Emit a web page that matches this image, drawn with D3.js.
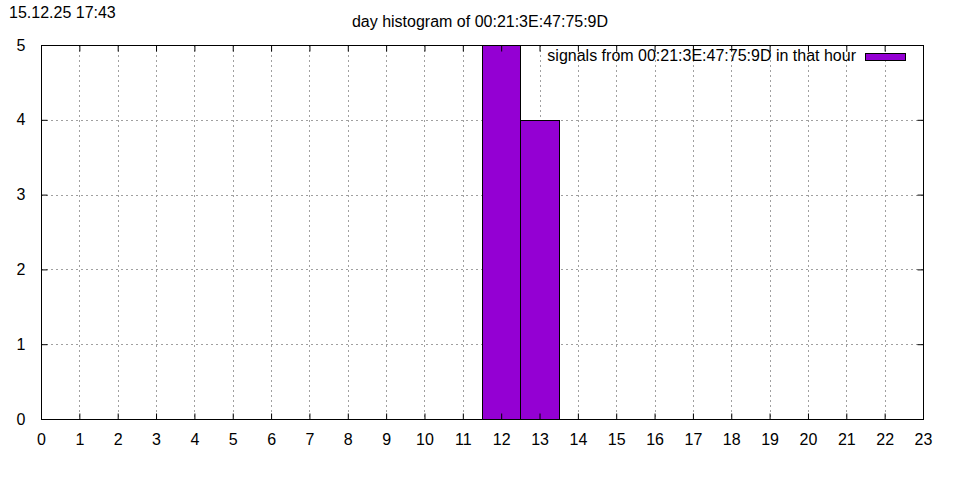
<!DOCTYPE html>
<html><head><meta charset="utf-8">
<script src="https://cdn.jsdelivr.net/npm/d3@7"></script>
<style>body{margin:0;background:#fff}svg{display:block}text{font-family:"Liberation Sans",Arial,sans-serif;fill:#000}</style>
</head><body><svg id="c" width="960" height="480"></svg>
<script>
const hours = [12, 13];
const counts = [5, 4];
const xTicks = d3.range(0, 24);
const yTicks = [0, 1, 2, 3, 4, 5];
const titleText = "day histogram of 00:21:3E:47:75:9D";
const stampText = "15.12.25 17:43";
const legendText = "signals from 00:21:3E:47:75:9D in that hour";

const svg = d3.select("#c");
const L = 41, R = 923, T = 45, B = 419;
const x = d3.scaleLinear().domain([0, 23]).range([L, R]);
const y = d3.scaleLinear().domain([0, 5]).range([B, T]);

// grid
const g = svg.append("g").attr("stroke", "#a0a0a0").attr("stroke-width", 1).attr("stroke-dasharray", "2,3");
g.selectAll(".gx").data(xTicks.filter(d => d > 0 && d < 23)).join("line")
  .attr("x1", d => Math.round(x(d)) + 0.5).attr("x2", d => Math.round(x(d)) + 0.5)
  .attr("y1", T).attr("y2", B);
g.selectAll(".gy").data(yTicks.filter(d => d > 0 && d < 5)).join("line")
  .attr("y1", d => Math.round(y(d)) + 0.5).attr("y2", d => Math.round(y(d)) + 0.5)
  .attr("x1", L).attr("x2", R);

// bars
svg.append("g").selectAll("rect").data(hours.map((h, i) => ({h, c: counts[i]}))).join("rect")
  .attr("x", d => Math.round(x(d.h - 0.5)) + 0.5)
  .attr("width", d => Math.round(x(d.h + 0.5)) - Math.round(x(d.h - 0.5)))
  .attr("y", d => Math.round(y(d.c)) + 0.5)
  .attr("height", d => Math.round(y(0)) - Math.round(y(d.c)))
  .attr("fill", "#9400d3").attr("stroke", "#000").attr("stroke-width", 1);

// axes (inward ticks, mirrored)
const fmt = d3.format("d");
const ax = svg.append("g").attr("transform", `translate(0,${B + 0.5})`)
  .call(d3.axisBottom(x).tickValues(xTicks).tickSize(-6).tickPadding(14).tickFormat(fmt));
const axT = svg.append("g").attr("transform", `translate(0,${T + 0.5})`)
  .call(d3.axisTop(x).tickValues(xTicks).tickSize(-6).tickFormat(""));
const ay = svg.append("g").attr("transform", `translate(${L + 0.5},0)`)
  .call(d3.axisLeft(y).tickValues(yTicks).tickSize(-6).tickPadding(16).tickFormat(fmt));
const ayR = svg.append("g").attr("transform", `translate(${R + 0.5},0)`)
  .call(d3.axisRight(y).tickValues(yTicks).tickSize(-6).tickFormat(""));
[ax, axT, ay, ayR].forEach(a => {
  a.select(".domain").remove();
  a.selectAll("line").attr("stroke", "#000");
  a.selectAll("text").attr("font-family", "Liberation Sans, Arial, sans-serif").attr("font-size", 16).attr("fill", "#000");
});
ay.selectAll("text").attr("dy", "0.32em");

// border
svg.append("rect").attr("x", L + 0.5).attr("y", T + 0.5).attr("width", R - L).attr("height", B - T)
  .attr("fill", "none").attr("stroke", "#000").attr("stroke-width", 1);

// titles
svg.append("text").attr("x", 480).attr("y", 27).attr("text-anchor", "middle").attr("font-size", 16).text(titleText);
svg.append("text").attr("x", 9).attr("y", 18).attr("font-size", 16).text(stampText);

// legend
svg.append("text").attr("x", 856).attr("y", 61).attr("text-anchor", "end").attr("font-size", 16).text(legendText);
svg.append("rect").attr("x", 865.5).attr("y", 53.5).attr("width", 40).attr("height", 7)
  .attr("fill", "#9400d3").attr("stroke", "#000").attr("stroke-width", 1);
</script></body></html>
